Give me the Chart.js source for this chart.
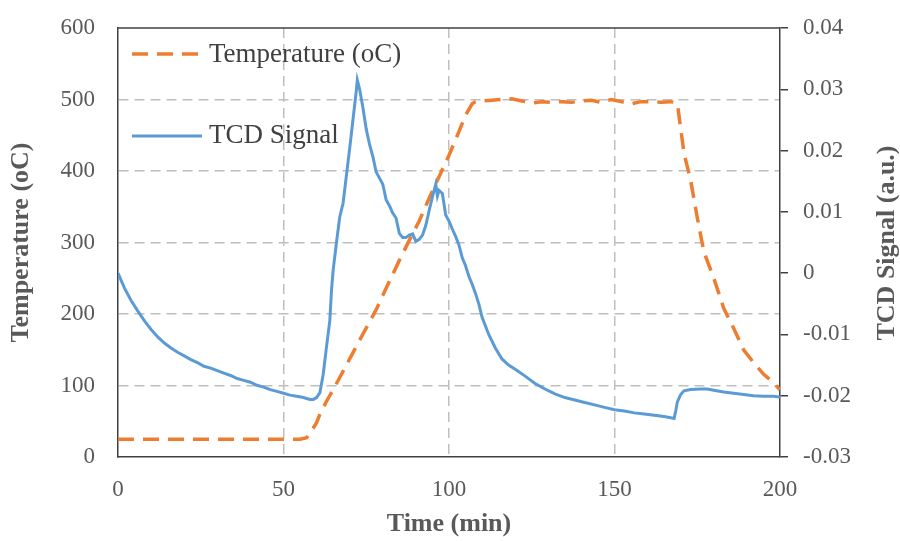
<!DOCTYPE html>
<html>
<head>
<meta charset="utf-8">
<script src="https://cdn.jsdelivr.net/npm/chart.js@4"></script>
<style>
  html,body{margin:0;padding:0;background:#fff;}
  #wrap{width:900px;height:541px;position:relative;}
</style>
</head>
<body>
<div id="wrap"><canvas id="tprChart" width="900" height="541"></canvas></div>
<script>
/* ==========================================
   TPR CHART DATA
========================================== */

const tempTime = [0,10,20,30,40,50,55,57,58,60,61,63,65,68,71,74,78,81,85,88,91,94,97,100,103,105,107,108,110,113,116,119,122,125,128,131,134,137,140,143,146,149,152,155,158,161,164,167,169,171,173,175,177,180,183,186,189,192,195,198,200];
const tempVal  = [25,25,25,25,25,25,25,27,33,48,60,78,94,120,146,172,206,236,275,303,330,362,392,422,455,478,494,497,498,499,500,501,498,495,497,496,497,496,498,499,496,500,497,494,497,497,496,497,494,425,387,335,287,250,208,180,150,132,116,104,94];

const tcdTime = [0,2,4,6,8,10,12,14,16,18,20,22,24,26,28,30,32,34,36,38,40,42,44,46,48,50,52,54,56,58,59,60,61,62,63,64,64.5,65,66,67,68,70,71,72,72.3,73,74,75,76,77,78,79,80,81,82,83,84,85,86,87,88,89,90,91,92,93,94,95,96,96.5,97,98,99,100,101,102,103,104,105,106,107,108,109,110,112,114,116,118,120,123,126,129,132,135,138,141,144,147,150,153,156,159,162,165,167,168,168.5,169,170,171,173,176,178,180,183,186,189,192,195,198,200];
const tcdVal  = [0,-0.0025,-0.0045,-0.0062,-0.0078,-0.0092,-0.0104,-0.0114,-0.0122,-0.0129,-0.0135,-0.0141,-0.0146,-0.0152,-0.0155,-0.0159,-0.0163,-0.0167,-0.0172,-0.0175,-0.0178,-0.0183,-0.0186,-0.019,-0.0193,-0.0196,-0.0199,-0.0201,-0.0203,-0.0206,-0.0206,-0.0203,-0.0195,-0.0165,-0.012,-0.0077,-0.0028,0.0005,0.005,0.0092,0.0114,0.0204,0.0251,0.0298,0.0315,0.030,0.027,0.0235,0.021,0.019,0.0165,0.0155,0.0145,0.012,0.011,0.0098,0.009,0.0065,0.0058,0.0058,0.0062,0.0064,0.0052,0.0055,0.0062,0.0078,0.0102,0.0125,0.0145,0.0126,0.0135,0.013,0.0095,0.0085,0.0072,0.006,0.0046,0.0025,0.0012,-0.0005,-0.0018,-0.0033,-0.005,-0.0072,-0.01,-0.0122,-0.014,-0.015,-0.0157,-0.0168,-0.018,-0.0189,-0.0197,-0.0203,-0.0207,-0.0211,-0.0215,-0.0219,-0.0223,-0.0225,-0.0228,-0.023,-0.0232,-0.0234,-0.0236,-0.0237,-0.0225,-0.021,-0.0198,-0.0192,-0.019,-0.0189,-0.0189,-0.0191,-0.0194,-0.0196,-0.0198,-0.02,-0.0201,-0.0201,-0.0202];

const xTicks = [0,50,100,150,200];
const tempTicks = [0,100,200,300,400,500,600];
const tcdTicks = [-0.03,-0.02,-0.01,0,0.01,0.02,0.03,0.04];

const legendLabels = ["Temperature (oC)","TCD Signal"];

/* ==========================================
   STYLE
========================================== */

const FONT = "'Liberation Serif', 'Times New Roman', serif";
const orange = "#ED7D31";
const blue = "#5B9BD5";
const gridColor = "#BFBFBF";
const axisColor = "#404040";
const textGray = "#595959";

const framePlugin = {
    id:"frame",
    beforeDatasetsDraw(chart){
        const {ctx, chartArea:a} = chart;
        ctx.save();
        ctx.strokeStyle = axisColor;
        ctx.lineWidth = 1.5;
        ctx.beginPath();
        ctx.moveTo(a.left, a.top);
        ctx.lineTo(a.right, a.top);
        ctx.stroke();
        ctx.restore();
    },
    afterDraw(chart){
        const {ctx} = chart;
        ctx.save();

        // legend
        ctx.lineWidth = 3.5;
        ctx.strokeStyle = orange;
        ctx.setLineDash([16,9]);
        ctx.beginPath();
        ctx.moveTo(132,54);
        ctx.lineTo(202,54);
        ctx.stroke();

        ctx.setLineDash([]);
        ctx.lineWidth = 3;
        ctx.strokeStyle = blue;
        ctx.beginPath();
        ctx.moveTo(132,136);
        ctx.lineTo(202,136);
        ctx.stroke();

        ctx.fillStyle = "#404040";
        ctx.font = "27px " + FONT;
        ctx.textBaseline = "middle";
        ctx.textAlign = "left";
        ctx.fillText(legendLabels[0], 209, 55);
        ctx.fillText(legendLabels[1], 209, 136);

        // right axis title
        ctx.translate(887, 243);
        ctx.rotate(-Math.PI/2);
        ctx.fillStyle = textGray;
        ctx.font = "bold 26px " + FONT;
        ctx.textAlign = "center";
        ctx.fillText("TCD Signal (a.u.)", 0, 0);

        ctx.restore();
    }
};

const tempPoints = tempTime.map((t,i)=>({x:t, y:tempVal[i]}));
const tcdPoints = tcdTime.map((t,i)=>({x:t, y:tcdVal[i]}));

const hideEdge = (lo,hi)=>c=>{
    const v = c.tick ? c.tick.value : null;
    return (Math.abs(v-lo)<1e-9 || Math.abs(v-hi)<1e-9) ? "rgba(0,0,0,0)" : gridColor;
};

function fixWidth(w){
    return s=>{
        s.width = w;
        s.paddingTop = 0;
        s.paddingBottom = 0;
    };
}

new Chart(document.getElementById("tprChart").getContext("2d"),{

    type:"line",

    data:{
        datasets:[
            {
                label:legendLabels[1],
                data:tcdPoints,
                yAxisID:"y2",
                borderColor:blue,
                borderWidth:3,
                pointRadius:0,
                tension:0,
                fill:false
            },
            {
                label:legendLabels[0],
                data:tempPoints,
                yAxisID:"y",
                borderColor:orange,
                borderWidth:3.5,
                borderDash:[16,9],
                pointRadius:0,
                tension:0,
                fill:false
            }
        ]
    },

    options:{
        responsive:false,
        animation:false,
        devicePixelRatio:1,
        layout:{ padding:{top:28,left:0,right:0,bottom:0} },
        plugins:{
            legend:{display:false},
            tooltip:{enabled:false}
        },
        scales:{
            x:{
                type:"linear",
                min:0, max:200,
                afterBuildTicks(s){ s.ticks = xTicks.map(v=>({value:v})); },
                afterFit(s){ s.height = 84; s.paddingLeft = 0; s.paddingRight = 0; },
                ticks:{
                    color:textGray,
                    font:{family:FONT, size:23},
                    padding:19,
                    maxRotation:0
                },
                grid:{
                    color:hideEdge(0,200),
                    lineWidth:1.5,
                    drawTicks:false
                },
                border:{display:true, color:axisColor, width:1.5, dash:[10,6]},
                title:{
                    display:true,
                    text:"Time (min)",
                    color:textGray,
                    font:{family:FONT, size:26, weight:"bold"},
                    padding:{top:0,bottom:1}
                }
            },
            y:{
                type:"linear",
                position:"left",
                min:0, max:600,
                afterBuildTicks(s){ s.ticks = tempTicks.map(v=>({value:v})); },
                afterFit:fixWidth(118),
                ticks:{
                    color:textGray,
                    font:{family:FONT, size:23},
                    padding:23
                },
                grid:{
                    color:hideEdge(0,600),
                    lineWidth:1.5,
                    drawTicks:false
                },
                border:{display:true, color:axisColor, width:1.5, dash:[10,6]},
                title:{
                    display:true,
                    text:"Temperature (oC)",
                    color:textGray,
                    font:{family:FONT, size:26, weight:"bold"},
                    padding:{top:6,bottom:0}
                }
            },
            y2:{
                type:"linear",
                position:"right",
                min:-0.03, max:0.04,
                afterBuildTicks(s){ s.ticks = tcdTicks.map(v=>({value:v})); },
                afterFit:fixWidth(120),
                ticks:{
                    color:textGray,
                    font:{family:FONT, size:23},
                    padding:15,
                    callback:v=>Math.abs(v)<1e-9 ? "0" : Number(v).toFixed(2)
                },
                grid:{
                    drawOnChartArea:false,
                    drawTicks:true,
                    tickLength:8,
                    color:axisColor,
                    lineWidth:1.5
                },
                border:{display:true, color:axisColor, width:1.5}
            }
        }
    },

    plugins:[framePlugin]

});
</script>
</body>
</html>
